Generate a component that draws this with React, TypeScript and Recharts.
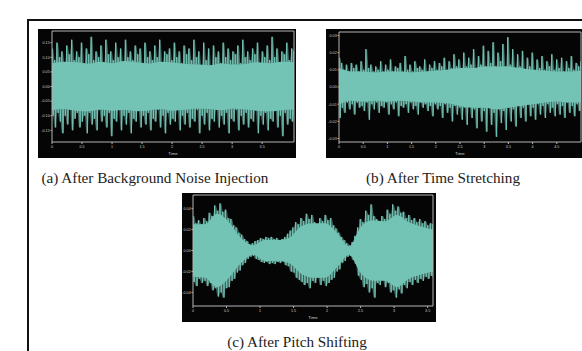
import React from 'react';
import { ComposedChart, Area, Line, XAxis, YAxis, ReferenceLine } from 'recharts';

// (a) background noise, 0 - 4.03 s
const noiseHi = [
  0.13, 0.09, 0.15, 0.10, 0.12, 0.08, 0.14, 0.11, 0.16, 0.09,
  0.12, 0.10, 0.15, 0.08, 0.13, 0.11, 0.17, 0.09, 0.12, 0.10,
  0.14, 0.08, 0.16, 0.11, 0.12, 0.09, 0.15, 0.10, 0.13, 0.08,
  0.16, 0.10, 0.12, 0.09, 0.14, 0.11, 0.13, 0.08, 0.15, 0.10,
  0.12, 0.09, 0.14, 0.10, 0.16, 0.08, 0.12, 0.11, 0.13, 0.09,
  0.15, 0.10, 0.12, 0.08, 0.14, 0.11, 0.13, 0.09, 0.16, 0.10,
  0.12, 0.07, 0.15, 0.09, 0.13, 0.07, 0.14, 0.10, 0.12, 0.08,
  0.15, 0.10, 0.13, 0.09, 0.12, 0.11, 0.14, 0.08, 0.16, 0.10,
  0.12, 0.09, 0.13, 0.11, 0.15, 0.08, 0.12, 0.10, 0.14, 0.09,
  0.17, 0.10, 0.13, 0.08, 0.12, 0.11, 0.15, 0.09, 0.13, 0.12,
];
const noiseLo = [
  -0.10, -0.14, -0.09, -0.12, -0.16, -0.10, -0.13, -0.08, -0.15, -0.11,
  -0.09, -0.14, -0.12, -0.10, -0.16, -0.09, -0.13, -0.11, -0.15, -0.08,
  -0.12, -0.10, -0.14, -0.09, -0.17, -0.11, -0.12, -0.08, -0.15, -0.10,
  -0.13, -0.09, -0.16, -0.11, -0.12, -0.08, -0.14, -0.10, -0.13, -0.09,
  -0.15, -0.11, -0.12, -0.08, -0.14, -0.10, -0.16, -0.09, -0.13, -0.11,
  -0.12, -0.08, -0.15, -0.10, -0.13, -0.09, -0.14, -0.11, -0.12, -0.08,
  -0.16, -0.10, -0.13, -0.09, -0.15, -0.11, -0.12, -0.08, -0.14, -0.10,
  -0.13, -0.09, -0.16, -0.11, -0.12, -0.08, -0.15, -0.10, -0.13, -0.09,
  -0.14, -0.11, -0.12, -0.08, -0.16, -0.10, -0.13, -0.09, -0.15, -0.11,
  -0.12, -0.08, -0.14, -0.10, -0.17, -0.09, -0.13, -0.11, -0.12, -0.10,
];
// solid middle band of the signal
const noiseCoreHi = [0.08, 0.085, 0.083, 0.078, 0.085, 0.08, 0.087, 0.083, 0.079, 0.085, 0.082, 0.077, 0.075, 0.073, 0.079, 0.075, 0.077, 0.083, 0.08, 0.085, 0.083];
const noiseCoreLo = [-0.081, -0.077, -0.083, -0.085, -0.079, -0.083, -0.08, -0.085, -0.082, -0.077, -0.083, -0.08, -0.075, -0.077, -0.081, -0.075, -0.079, -0.083, -0.085, -0.081, -0.08];
const noiseXTicks = [0, 0.5, 1, 1.5, 2, 2.5, 3, 3.5];
const noiseYTicks = [-0.15, -0.1, -0.05, 0, 0.05, 0.1, 0.15];

// (b) time stretching, 0 - 5.0 s
const stretchHi = [
  0.017, 0.014, 0.010, 0.013, 0.009, 0.014, 0.011, 0.013, 0.009, 0.015,
  0.010, 0.022, 0.011, 0.013, 0.009, 0.012, 0.010, 0.015, 0.009, 0.013,
  0.010, 0.016, 0.009, 0.012, 0.011, 0.014, 0.009, 0.018, 0.010, 0.013,
  0.009, 0.015, 0.011, 0.012, 0.010, 0.016, 0.009, 0.013, 0.011, 0.015,
  0.010, 0.014, 0.012, 0.017, 0.010, 0.015, 0.011, 0.019, 0.012, 0.016,
  0.011, 0.020, 0.012, 0.017, 0.013, 0.022, 0.011, 0.018, 0.013, 0.024,
  0.012, 0.021, 0.014, 0.026, 0.012, 0.020, 0.015, 0.025, 0.012, 0.029,
  0.013, 0.022, 0.011, 0.019, 0.012, 0.021, 0.010, 0.017, 0.012, 0.020,
  0.010, 0.016, 0.011, 0.018, 0.010, 0.015, 0.012, 0.019, 0.010, 0.016,
  0.011, 0.017, 0.009, 0.015, 0.011, 0.018, 0.010, 0.014, 0.012, 0.015,
];
const stretchLo = [
  -0.018, -0.012, -0.015, -0.009, -0.013, -0.010, -0.016, -0.009, -0.012, -0.011,
  -0.014, -0.009, -0.019, -0.010, -0.013, -0.009, -0.015, -0.011, -0.012, -0.009,
  -0.016, -0.010, -0.013, -0.009, -0.017, -0.011, -0.012, -0.010, -0.015, -0.009,
  -0.013, -0.011, -0.016, -0.009, -0.012, -0.010, -0.014, -0.011, -0.017, -0.010,
  -0.013, -0.011, -0.018, -0.010, -0.015, -0.012, -0.020, -0.011, -0.016, -0.012,
  -0.019, -0.012, -0.022, -0.011, -0.018, -0.013, -0.024, -0.012, -0.020, -0.014,
  -0.026, -0.012, -0.022, -0.015, -0.029, -0.013, -0.021, -0.014, -0.025, -0.012,
  -0.020, -0.013, -0.023, -0.011, -0.018, -0.012, -0.020, -0.010, -0.017, -0.012,
  -0.019, -0.010, -0.016, -0.011, -0.018, -0.010, -0.015, -0.012, -0.017, -0.010,
  -0.016, -0.011, -0.018, -0.009, -0.015, -0.011, -0.017, -0.010, -0.014, -0.013,
];
const stretchCoreHi = [0.011, 0.009, 0.009, 0.0085, 0.009, 0.009, 0.0085, 0.009, 0.0095, 0.01, 0.011, 0.011, 0.012, 0.012, 0.012, 0.011, 0.01, 0.0095, 0.009, 0.009, 0.0095];
const stretchCoreLo = [-0.01, -0.008, -0.0085, -0.008, -0.0085, -0.008, -0.0085, -0.009, -0.009, -0.0095, -0.011, -0.012, -0.012, -0.013, -0.012, -0.011, -0.01, -0.009, -0.0085, -0.009, -0.009];
const stretchXTicks = [0, 0.5, 1, 1.5, 2, 2.5, 3, 3.5, 4, 4.5];
const stretchYTicks = [-0.03, -0.02, -0.01, 0, 0.01, 0.02, 0.03];

// (c) pitch shifting, 0 - 3.58 s
const pitchHi = [
  0.033, 0.026, 0.029, 0.025, 0.031, 0.028, 0.036, 0.033, 0.043, 0.038,
  0.045, 0.037, 0.039, 0.031, 0.030, 0.024, 0.022, 0.017, 0.015, 0.011,
  0.009, 0.006, 0.007, 0.009, 0.010, 0.012, 0.011, 0.013, 0.012, 0.013,
  0.011, 0.012, 0.010, 0.011, 0.013, 0.016, 0.019, 0.022, 0.027, 0.025,
  0.031, 0.028, 0.035, 0.030, 0.034, 0.027, 0.025, 0.031, 0.028, 0.034,
  0.029, 0.031, 0.024, 0.021, 0.017, 0.013, 0.010, 0.007, 0.005, 0.008,
  0.014, 0.022, 0.030, 0.027, 0.038, 0.034, 0.044, 0.033, 0.030, 0.026,
  0.033, 0.030, 0.039, 0.035, 0.044, 0.038, 0.042, 0.036, 0.037, 0.031,
  0.034, 0.029, 0.031, 0.027, 0.030, 0.026, 0.028, 0.024, 0.026, 0.025,
];
const pitchLo = [
  -0.030, -0.034, -0.027, -0.031, -0.029, -0.034, -0.031, -0.038, -0.036, -0.044,
  -0.040, -0.045, -0.036, -0.035, -0.029, -0.027, -0.021, -0.019, -0.014, -0.012,
  -0.008, -0.006, -0.005, -0.008, -0.009, -0.011, -0.012, -0.011, -0.013, -0.012,
  -0.013, -0.011, -0.012, -0.010, -0.014, -0.015, -0.020, -0.021, -0.026, -0.028,
  -0.030, -0.033, -0.031, -0.036, -0.029, -0.031, -0.026, -0.033, -0.029, -0.034,
  -0.031, -0.028, -0.026, -0.020, -0.018, -0.012, -0.010, -0.006, -0.005, -0.009,
  -0.013, -0.024, -0.028, -0.035, -0.032, -0.040, -0.036, -0.045, -0.031, -0.033,
  -0.027, -0.035, -0.031, -0.040, -0.038, -0.045, -0.037, -0.041, -0.033, -0.036,
  -0.030, -0.033, -0.028, -0.031, -0.027, -0.029, -0.025, -0.027, -0.024, -0.026,
];
const pitchCoreHi = [0.025, 0.025, 0.035, 0.027, 0.012, 0.005, 0.01, 0.01, 0.012, 0.023, 0.026, 0.026, 0.017, 0.004, 0.023, 0.029, 0.028, 0.034, 0.027, 0.023, 0.02];
const pitchCoreLo = [-0.025, -0.026, -0.035, -0.026, -0.012, -0.004, -0.01, -0.01, -0.012, -0.022, -0.026, -0.026, -0.016, -0.004, -0.022, -0.029, -0.029, -0.035, -0.027, -0.023, -0.02];
const pitchXTicks = [0, 0.5, 1, 1.5, 2, 2.5, 3, 3.5];
const pitchYTicks = [-0.04, -0.02, 0, 0.02, 0.04];

const TEAL = '#74c4b5';
const AXIS = '#b5b5b5';
const TICK = '#cfcfcf';

interface WaveProps {
  width: number;
  height: number;
  margin: { top: number; right: number; left: number; bottom: number };
  yWidth: number;
  hi: number[];
  lo: number[];
  coreHi: number[];
  coreLo: number[];
  duration: number;
  yMax: number;
  xTicks: number[];
  yTicks: number[];
}

function Wave({ width, height, margin, yWidth, hi, lo, coreHi, coreLo, duration, yMax, xTicks, yTicks }: WaveProps) {
  const step = duration / (hi.length - 1);
  // zig-zag between the upper and lower sample of each step, like a dense waveform
  const rows: { t: number; v: number; range: number[] }[] = [];
  hi.forEach((h, i) => {
    rows.push({ t: i * step, v: h, range: [lo[i], h] });
    rows.push({ t: (i + 0.5) * step, v: lo[i], range: [lo[i], h] });
  });
  const coreStep = duration / (coreHi.length - 1);
  const coreRows = coreHi.map((h, i) => ({ t: i * coreStep, core: [coreLo[i], h] }));
  const tickStyle = { fontSize: 3.7, fill: TICK, fontFamily: '"Liberation Sans", Arial' };

  return (
    <div style={{ background: '#050505', width, height }}>
      <ComposedChart width={width} height={height} data={rows} margin={margin}>
        <XAxis
          dataKey="t"
          type="number"
          domain={[0, duration]}
          ticks={xTicks}
          allowDataOverflow
          height={16}
          stroke={AXIS}
          tick={tickStyle}
          tickSize={2}
          tickMargin={1}
          label={{ value: 'Time', position: 'insideBottom', offset: 3, fontSize: 4.3, fill: TICK, fontFamily: '"Liberation Sans", Arial' }}
        />
        <YAxis
          type="number"
          domain={[-yMax, yMax]}
          ticks={yTicks}
          allowDataOverflow
          width={yWidth}
          stroke={AXIS}
          tick={tickStyle}
          tickSize={1.5}
          tickMargin={0.8}
          tickFormatter={(v: number) => v.toFixed(2)}
        />
        <Area
          type="linear"
          dataKey="range"
          stroke="none"
          fill={TEAL}
          fillOpacity={0.5}
          isAnimationActive={false}
          dot={false}
          activeDot={false}
        />
        <Area
          type="monotone"
          data={coreRows}
          dataKey="core"
          stroke="none"
          fill={TEAL}
          fillOpacity={1}
          isAnimationActive={false}
          dot={false}
          activeDot={false}
        />
        <Line
          type="linear"
          dataKey="v"
          stroke={TEAL}
          strokeWidth={0.9}
          dot={false}
          activeDot={false}
          isAnimationActive={false}
        />
        <ReferenceLine y={yMax} stroke={AXIS} />
        <ReferenceLine x={duration} stroke={AXIS} />
      </ComposedChart>
    </div>
  );
}

const captionStyle: React.CSSProperties = {
  position: 'absolute',
  width: 300,
  fontFamily: '"Liberation Serif", serif',
  fontSize: 15.2,
  color: '#222',
  textAlign: 'center',
  whiteSpace: 'nowrap',
  lineHeight: '18px',
};

export default function App() {
  return (
    <div style={{ position: 'absolute', left: 0, top: 0, width: 582, height: 351, overflow: 'hidden', background: '#fff' }}>
      <div
        style={{
          position: 'absolute',
          left: 27,
          top: 19,
          width: 620,
          height: 400,
          borderLeft: '2px solid #111',
          borderTop: '2px solid #111',
        }}
      />

      <div style={{ position: 'absolute', left: 38, top: 29 }}>
        <Wave
          width={258}
          height={129}
          margin={{ top: 2, right: 2, left: 0, bottom: 0 }}
          yWidth={14}
          hi={noiseHi}
          lo={noiseLo}
          coreHi={noiseCoreHi}
          coreLo={noiseCoreLo}
          duration={4.03}
          yMax={0.19}
          xTicks={noiseXTicks}
          yTicks={noiseYTicks}
        />
      </div>

      <div style={{ position: 'absolute', left: 326, top: 29 }}>
        <Wave
          width={256}
          height={129}
          margin={{ top: 3, right: 1, left: 0, bottom: 0 }}
          yWidth={13}
          hi={stretchHi}
          lo={stretchLo}
          coreHi={stretchCoreHi}
          coreLo={stretchCoreLo}
          duration={5.0}
          yMax={0.032}
          xTicks={stretchXTicks}
          yTicks={stretchYTicks}
        />
      </div>

      <div style={{ position: 'absolute', left: 182, top: 193 }}>
        <Wave
          width={254}
          height={129}
          margin={{ top: 2, right: 3, left: 0, bottom: 0 }}
          yWidth={11}
          hi={pitchHi}
          lo={pitchLo}
          coreHi={pitchCoreHi}
          coreLo={pitchCoreLo}
          duration={3.58}
          yMax={0.053}
          xTicks={pitchXTicks}
          yTicks={pitchYTicks}
        />
      </div>

      <div style={{ ...captionStyle, left: 5, top: 169 }}>(a) After Background Noise Injection</div>
      <div style={{ ...captionStyle, left: 293, top: 169 }}>(b) After Time Stretching</div>
      <div style={{ ...captionStyle, left: 147, top: 333 }}>(c) After Pitch Shifting</div>
    </div>
  );
}
